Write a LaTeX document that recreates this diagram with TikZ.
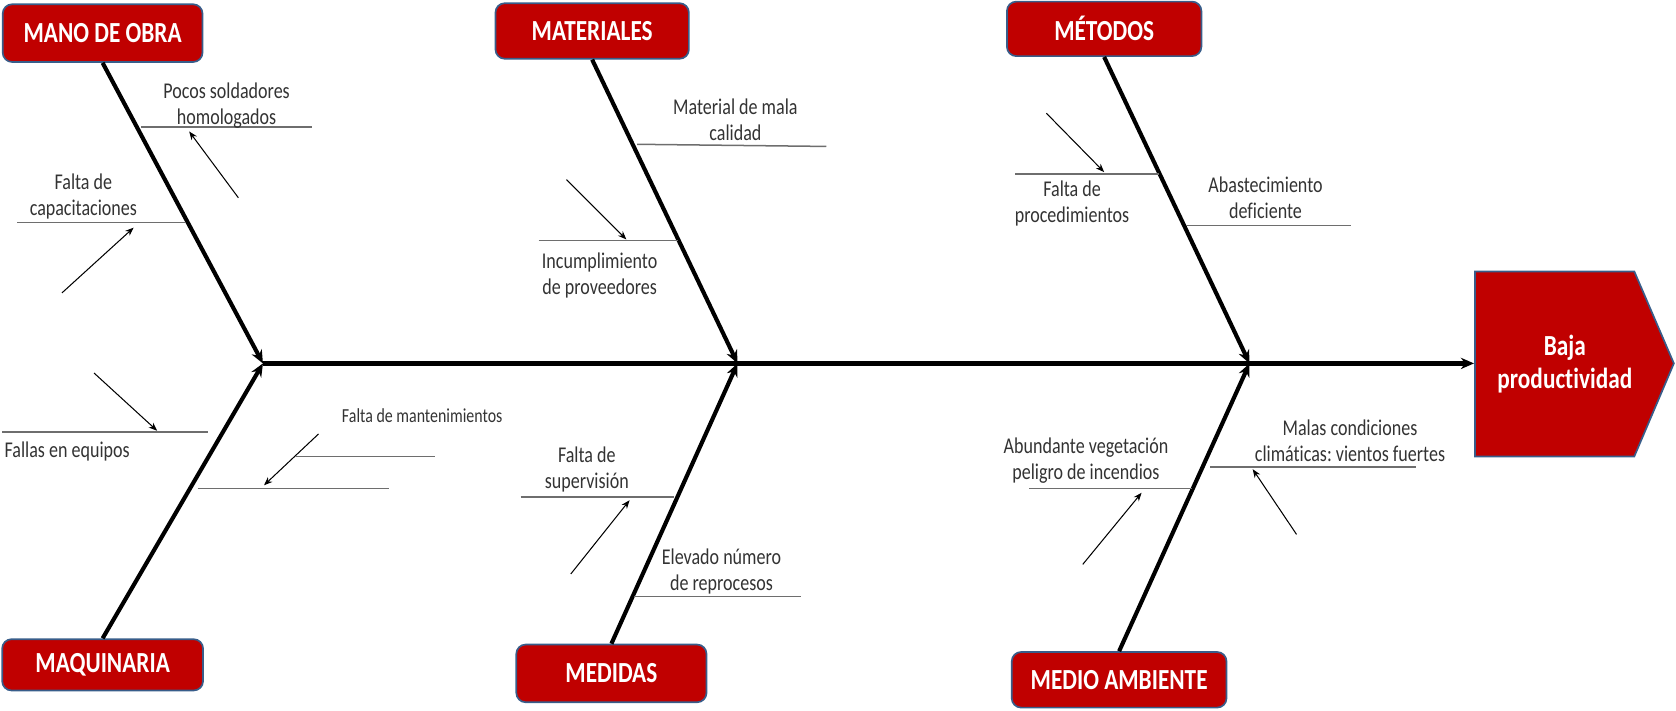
\documentclass[tikz,border=0pt]{standalone}
\usepackage{fontspec}
\setmainfont{Carlito}[FakeStretch=0.8, Ligatures=CommonOff]
\usepackage{xcolor}
\usetikzlibrary{arrows.meta}
\definecolor{rojo}{RGB}{192,0,0}
\definecolor{borde}{RGB}{56,93,138}
\definecolor{gris}{RGB}{110,110,110}
\frenchspacing

\begin{document}
\begin{tikzpicture}[x=0.02cm, y=-0.02cm,
  causa/.style={rectangle, rounded corners=5pt, fill=rojo, draw=borde, line width=0.9pt,
    text=white, font=\fontsize{15.5}{18}\selectfont\bfseries, minimum height=1.04cm, inner sep=0pt},
  efecto/.style={align=center, text=white, inner sep=0pt, font=\fontsize{15.5}{17.6}\selectfont\bfseries},
  espina/.style={line width=2.2pt, -{Stealth[length=7pt,width=6pt]}},
  rama/.style={draw=gris, line width=0.8pt},
  flecha/.style={line width=0.55pt, -{Stealth[length=4.5pt,width=3.5pt]}},
  texto/.style={align=center, inner sep=0pt, text=black!80, font=\fontsize{12}{13.9}\selectfont}]
  \useasboundingbox (0,0) rectangle (1568,665);

  % junctions on the spine
  \coordinate (j1) at (246,340);
  \coordinate (j2) at (690,340);
  \coordinate (j3) at (1169,340);
  \coordinate (meta) at (1379,340);

  % effect
  \filldraw[fill=rojo, draw=borde, line width=0.9pt] (1380,254) -- (1529,254) -- (1566,340)
    -- (1529,427) -- (1380,427) -- cycle;
  \node[efecto] (efecto) at (1464,341) {Baja\\productividad};

  % categories
  \node[causa, minimum width=3.74cm, minimum height=1.08cm] (mano) at (96,31) {MANO DE OBRA};
  \node[causa, minimum width=3.62cm] (materiales) at (554,29) {MATERIALES};
  \node[causa, minimum width=3.64cm, minimum height=1.02cm] (metodos) at (1033,27) {MÉTODOS};
  \node[causa, minimum width=3.76cm, minimum height=0.96cm] (maquinaria) at (96,622) {MAQUINARIA};
  \node[causa, minimum width=3.56cm, minimum height=1.08cm] (medidas) at (572,630) {MEDIDAS};
  \node[causa, minimum width=4.02cm] (ambiente) at (1047,636) {MEDIO AMBIENTE};

  % spine and bones
  \draw[espina, line width=2.6pt] (j1) -- (meta);
  \draw[espina] (mano.south) -- (j1);
  \draw[espina] (maquinaria.north) -- (j1);
  \draw[espina] (materiales.south) -- (j2);
  \draw[espina] (medidas.north) -- (j2);
  \draw[espina] (metodos.south) -- (j3);
  \draw[espina] (ambiente.north) -- (j3);

  % sub-causes: lines
  \coordinate (r1a) at (132,119);  \coordinate (r1b) at (292,119);
  \coordinate (r2a) at (16,208);   \coordinate (r2b) at (173,208);
  \coordinate (r3a) at (596,135);  \coordinate (r3b) at (773,137);
  \coordinate (r4a) at (504,225);  \coordinate (r4b) at (634,225);
  \coordinate (r5a) at (950,163);  \coordinate (r5b) at (1084,163);
  \coordinate (r6a) at (1110,211); \coordinate (r6b) at (1264,211);
  \coordinate (r7a) at (2,404);    \coordinate (r7b) at (195,404);
  \coordinate (r8a) at (277,427);  \coordinate (r8b) at (407,427);
  \coordinate (r9a) at (185,457);  \coordinate (r9b) at (364,457);
  \coordinate (r10a) at (487,465); \coordinate (r10b) at (631,465);
  \coordinate (r11a) at (593,558); \coordinate (r11b) at (749,558);
  \coordinate (r12a) at (963,457); \coordinate (r12b) at (1115,457);
  \coordinate (r13a) at (1132,437); \coordinate (r13b) at (1325,437);
  \draw[rama] (r1a) -- (r1b);
  \draw[rama] (r2a) -- (r2b);
  \draw[rama] (r3a) -- (r3b);
  \draw[rama] (r4a) -- (r4b);
  \draw[rama] (r5a) -- (r5b);
  \draw[rama] (r6a) -- (r6b);
  \draw[rama] (r7a) -- (r7b);
  \draw[rama] (r8a) -- (r8b);
  \draw[rama] (r9a) -- (r9b);
  \draw[rama] (r10a) -- (r10b);
  \draw[rama] (r11a) -- (r11b);
  \draw[rama] (r12a) -- (r12b);
  \draw[rama] (r13a) -- (r13b);

  % sub-causes: small arrows
  \coordinate (f1a) at (223,185);  \coordinate (f1b) at (177,123);
  \coordinate (f2a) at (58,274);   \coordinate (f2b) at (125,213);
  \coordinate (f3a) at (530,168);  \coordinate (f3b) at (586,224);
  \coordinate (f4a) at (979,106);  \coordinate (f4b) at (1033,161);
  \coordinate (f5a) at (88,349);   \coordinate (f5b) at (147,403);
  \coordinate (f6a) at (298,406);  \coordinate (f6b) at (247,454);
  \coordinate (f7a) at (534,537);  \coordinate (f7b) at (589,468);
  \coordinate (f8a) at (1013,528); \coordinate (f8b) at (1068,461);
  \coordinate (f9a) at (1213,500); \coordinate (f9b) at (1172,439);
  \draw[flecha] (f1a) -- (f1b);
  \draw[flecha] (f2a) -- (f2b);
  \draw[flecha] (f3a) -- (f3b);
  \draw[flecha] (f4a) -- (f4b);
  \draw[flecha] (f5a) -- (f5b);
  \draw[flecha] (f6a) -- (f6b);
  \draw[flecha] (f7a) -- (f7b);
  \draw[flecha] (f8a) -- (f8b);
  \draw[flecha] (f9a) -- (f9b);

  % sub-causes: texts
  \node[texto] (pocos) at (212,99) {Pocos soldadores\\homologados};
  \node[texto] (capac) at (78,184) {Falta de\\capacitaciones};
  \node[texto] (material) at (688,112) {Material de mala\\calidad};
  \node[texto] (incump) at (561,258) {Incumplimiento\\de proveedores};
  \node[texto] (proced) at (1003,190) {Falta de\\procedimientos};
  \node[texto] (abast) at (1184,185) {Abastecimiento\\deficiente};
  \node[texto, anchor=west] (fallas) at (4,422) {Fallas en equipos};
  \node[texto, font=\fontsize{10.6}{12}\selectfont] (mant) at (395,389) {Falta de mantenimientos};
  \node[texto] (superv) at (549,439) {Falta de\\supervisión};
  \node[texto] (reproc) at (675,535) {Elevado número\\de reprocesos};
  \node[texto] (veget) at (1016,431) {Abundante vegetación\\peligro de incendios};
  \node[texto] (clima) at (1263,412) {Malas condiciones\\climáticas: vientos fuertes};
\end{tikzpicture}
\end{document}
